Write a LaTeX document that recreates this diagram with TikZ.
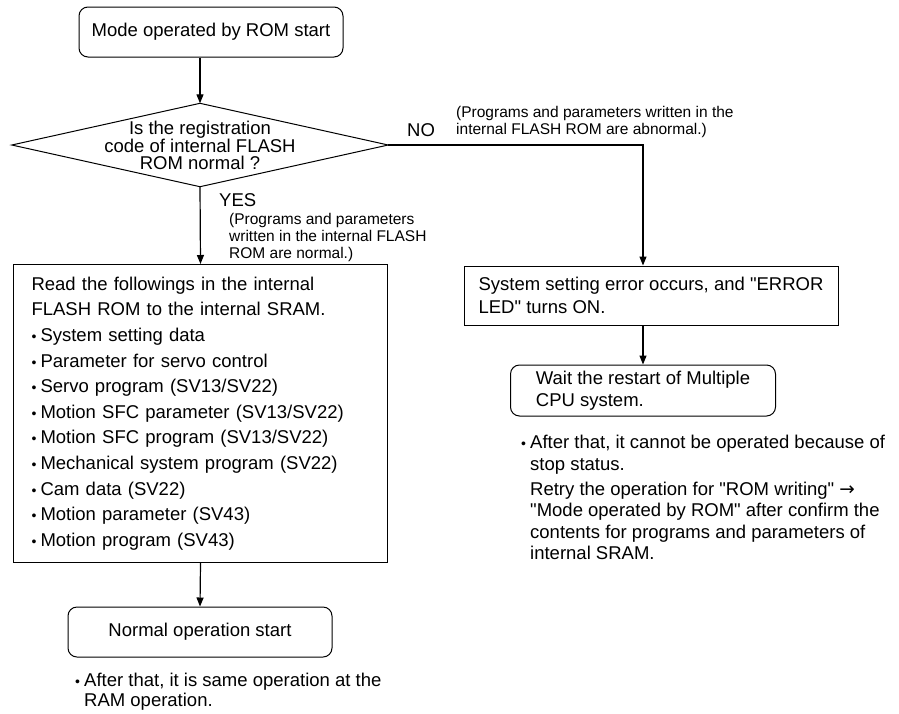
\documentclass[tikz,border=0pt]{standalone}
\usepackage{fontspec}
\setmainfont{Liberation Sans}
\newfontfamily\arrfont{DejaVu Sans}
\usetikzlibrary{arrows.meta,positioning,calc}

\newcommand{\itm}{\makebox[9pt][l]{\fontsize{14}{14}\selectfont\textbullet}}
\newcommand{\qt}{\textquotedbl}

\begin{document}
\begin{tikzpicture}[
    x=1pt, y=-1pt,
    rbox/.style={rectangle, draw, line width=1pt, rounded corners=9pt, minimum width=264pt, minimum height=50pt, align=center, font={\fontsize{18.5}{22}\selectfont}},
    block/.style={rectangle, draw, line width=1pt, align=left, inner xsep=18pt},
    decision/.style={rectangle, minimum width=376pt, minimum height=83pt, align=center, inner sep=0pt, font={\fontsize{18.5}{16.7}\selectfont}},
    label/.style={inner sep=0pt, font={\fontsize{18.5}{22}\selectfont}},
    note/.style={inner sep=0pt, align=left, font={\fontsize{15.5}{17}\selectfont}},
    remark/.style={inner sep=0pt, align=left},
    arrow/.style={-{Triangle[length=9pt,width=7pt]}, line width=1.2pt}
]
    \useasboundingbox (0,0) rectangle (899,713);

    \node[rbox] (start) at (211,32) {Mode operated by ROM start};
    \node[decision] (dec) at (200,145) {Is the registration\\code of internal FLASH\\ROM normal ?};
    \draw[line width=1pt] (dec.north) -- (dec.east) -- (dec.south) -- (dec.west) -- cycle;

    \node[block, text width=338pt, minimum height=298pt, anchor=north west, font={\fontsize{18.5}{25.6}\selectfont}] (readbox) at (13,264) {
        Read the followings in the internal\\
        FLASH ROM to the internal SRAM.\\
        \itm System setting data\\
        \itm Parameter for servo control\\
        \itm Servo program (SV13/SV22)\\
        \itm Motion SFC parameter (SV13/SV22)\\
        \itm Motion SFC program (SV13/SV22)\\
        \itm Mechanical system program (SV22)\\
        \itm Cam data (SV22)\\
        \itm Motion parameter (SV43)\\
        \itm Motion program (SV43)};
    \node[rbox] (normal) at (200,632) {Normal operation start};

    \node[block, inner xsep=8pt, minimum width=374pt, minimum height=59pt, font={\fontsize{18.5}{23}\selectfont}] (err) at (651,295.5) {System setting error occurs, and \qt ERROR\\LED\qt{} turns ON.};
    \node[rbox, minimum width=265pt, minimum height=51pt, align=left] (wait) at (643,390.5) {Wait the restart of Multiple\\CPU system.};

    \draw[arrow] (start.south -| dec.north) -- (dec.north);
    \draw[arrow] (dec.south) -- (readbox.north);
    \draw[arrow] (readbox.south) -- (normal.north);
    \draw[arrow] (dec.east) -| (wait.north |- err.north);
    \draw[arrow] (wait.north |- err.south) -- (wait.north);

    % branch labels
    \node[label, anchor=west] (yes) at (219,200) {YES};
    \node[label, anchor=west] (no) at (407,130) {NO};
    \node[note, anchor=north west] (yesnote) at (229,213) {(Programs and parameters\\written in the internal FLASH\\ROM are normal.)};
    \node[note, anchor=north west] (nonote) at (456,106) {(Programs and parameters written in the\\internal FLASH ROM are abnormal.)};

    \node[remark, anchor=north west, font={\fontsize{18.5}{21.5}\selectfont}] (stopnote) at (521,435) {
        \itm After that, it cannot be operated because of\\
        \hphantom{\itm}stop status.\\[3.5pt]
        \hphantom{\itm}Retry the operation for \qt ROM writing\qt{} {\arrfont →}\\
        \hphantom{\itm}\qt Mode operated by ROM\qt{} after confirm the\\
        \hphantom{\itm}contents for programs and parameters of\\
        \hphantom{\itm}internal SRAM.};
    \node[remark, anchor=north west, font={\fontsize{18.5}{19.5}\selectfont}] (ramnote) at (75,673) {
        \itm After that, it is same operation at the\\
        \hphantom{\itm}RAM operation.};
\end{tikzpicture}
\end{document}
